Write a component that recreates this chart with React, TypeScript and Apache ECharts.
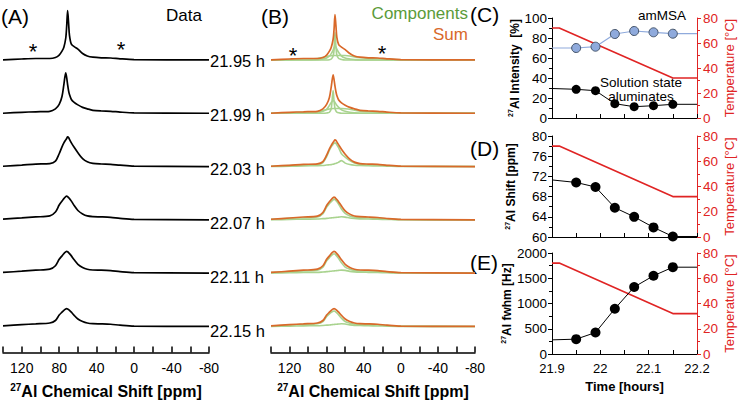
import React, { useEffect, useRef } from 'react';
import * as echarts from 'echarts';

// ---------- Panel A / B : 27Al spectra ----------
const PPM = [140, 120, 105, 90, 84, 80, 77, 75, 73, 72, 71, 70, 69, 67, 64, 60, 55, 50, 44, 35, 25, 15, 0, -80];
const SPEC_TIMES = [21.95, 21.99, 22.03, 22.07, 22.11, 22.15];

// measured data (panel A)
const DATA_2195 = [0, 1, 1.5, 1.5, 2.5, 5, 9, 13, 22, 34, 50, 38, 25, 16, 13.5, 11, 6.5, 4, 2.8, 2.2, 2, 1.2, 0.4, 0];
const DATA_2199 = [0, 1, 1.5, 2, 4.5, 9, 17, 29, 41, 36, 29, 23, 19, 14, 11, 8.5, 6, 4.5, 3, 2.3, 2, 1.2, 0.4, 0];
const DATA_2203 = [0.3, 1.5, 2.5, 3, 5.5, 13, 20, 24, 27, 28.5, 30, 29.5, 27.5, 24, 19.5, 14, 8, 4.8, 3.2, 2.6, 2.3, 1.4, 0.4, 0];
const DATA_2207 = [0.7, 2, 3, 4, 8, 15, 19, 21.5, 23.5, 24, 23.5, 22.5, 21.5, 19, 14.5, 9.5, 6, 4, 3.3, 3, 2.5, 1.5, 0.5, 0];
const DATA_2211 = [0.7, 2, 3, 4, 7.5, 14, 17.5, 19.8, 21.5, 22, 21.6, 20.8, 19.8, 17.5, 13.5, 9, 5.8, 4, 3.2, 3, 2.5, 1.5, 0.5, 0];
const DATA_2215 = [0.5, 1.8, 2.6, 3.5, 6, 11.5, 14.5, 16.3, 17.6, 18, 17.7, 17.1, 16.3, 14.5, 11.2, 7.5, 5, 3.5, 2.8, 2.6, 2.2, 1.3, 0.4, 0];

// fit sums (panel B)
const SUM_2195 = [0, 1, 1.5, 1.5, 2.5, 5, 9, 13, 21, 31, 46, 35, 23, 15.5, 13, 10.5, 6.5, 4, 2.8, 2.2, 2, 1.2, 0.4, 0];
const SUM_2199 = [0, 1, 1.5, 2, 4.5, 9, 16, 27, 39, 34, 27.5, 22, 18, 13.5, 10.5, 8.2, 6, 4.5, 3, 2.3, 2, 1.2, 0.4, 0];
const SUM_2203 = [0.3, 1.3, 2.2, 2.7, 5, 11.5, 18, 21.5, 24.5, 26, 27, 26.5, 25, 22, 17.5, 12.5, 7.5, 4.5, 3, 2.5, 2.2, 1.3, 0.4, 0];
const SUM_2207 = [0.6, 1.9, 2.9, 3.8, 7.5, 14.5, 18.3, 20.6, 22.5, 23, 22.6, 21.6, 20.6, 18.2, 14, 9.2, 5.8, 3.9, 3.2, 2.9, 2.4, 1.4, 0.5, 0];
const SUM_2211 = [0.7, 2, 3, 4, 7.5, 14, 17.5, 19.8, 21.5, 22, 21.6, 20.8, 19.8, 17.5, 13.5, 9, 5.8, 4, 3.2, 3, 2.5, 1.5, 0.5, 0];
const SUM_2215 = [0.5, 1.8, 2.6, 3.5, 6, 11.5, 14.5, 16.3, 17.6, 18, 17.7, 17.1, 16.3, 14.5, 11.2, 7.5, 5, 3.5, 2.8, 2.6, 2.2, 1.3, 0.4, 0];

// fit components (panel B)
const COMP_2195_A = [0, 0, 0, 0, 0, 0, 0.3, 1, 4, 10, 28, 14, 5, 1.5, 0.5, 0, 0, 0, 0, 0, 0, 0, 0, 0];
const COMP_2195_B = [0, 0, 0, 0.3, 1, 2, 4, 6.5, 10, 12.5, 14, 13, 11, 7.5, 4, 2, 1, 0.4, 0, 0, 0, 0, 0, 0];
const COMP_2195_C = [0, 0.5, 1, 1.5, 2.5, 3.5, 4, 4.3, 4.5, 4.5, 4.5, 4.5, 4.5, 4.5, 4.5, 4.5, 4, 3, 2.2, 1.6, 1.2, 0.6, 0.2, 0];
const COMP_2199_A = [0, 0, 0, 0, 0, 0.3, 1, 5, 23, 12, 5, 2.5, 1.2, 0.5, 0, 0, 0, 0, 0, 0, 0, 0, 0, 0];
const COMP_2199_B = [0, 0, 0, 0.5, 2, 4, 8, 11, 13, 12.5, 11, 9.5, 8, 6, 3.5, 2, 1, 0.4, 0, 0, 0, 0, 0, 0];
const COMP_2199_C = [0, 0.5, 1, 1.6, 2.7, 3.8, 4.3, 4.6, 4.8, 4.8, 4.8, 4.8, 4.8, 4.8, 4.7, 4.5, 4, 3, 2.2, 1.6, 1.2, 0.6, 0.2, 0];
const COMP_2203_A = [0.3, 1, 1.5, 2, 4, 10, 16.5, 20, 22.5, 23.5, 24, 23.5, 22, 19, 13, 9.5, 6, 3.5, 2.2, 1.8, 1.6, 1, 0.3, 0];
const COMP_2203_B = [0, 0.3, 0.7, 0.8, 1, 1.5, 1.8, 2, 2.4, 2.6, 3, 3.2, 3.6, 4.5, 6, 3.5, 2, 1.3, 1, 0.8, 0.6, 0.4, 0.1, 0];
const COMP_2207_A = [0.5, 1.5, 2.2, 3, 6.3, 13, 16.5, 18.5, 20.3, 21, 20.6, 19.6, 18.5, 15.8, 11, 6.6, 4, 2.6, 2.2, 2.1, 1.8, 1, 0.4, 0];
const COMP_2207_B = [0.1, 0.4, 0.7, 0.8, 1.2, 1.5, 1.8, 2, 2.2, 2.3, 2.4, 2.5, 2.6, 2.8, 3.1, 2.8, 1.8, 1.3, 1, 0.8, 0.6, 0.4, 0.1, 0];
const COMP_2211_A = [0.5, 1.5, 2.2, 3, 6, 12.5, 15.7, 17.8, 19.3, 19.7, 19.2, 18.3, 17.2, 14.7, 10.5, 6.2, 4, 2.7, 2.2, 2.2, 1.9, 1.1, 0.4, 0];
const COMP_2211_B = [0.1, 0.4, 0.7, 0.8, 1.2, 1.5, 1.8, 2, 2.2, 2.3, 2.4, 2.5, 2.6, 2.8, 3.1, 2.8, 1.8, 1.3, 1, 0.8, 0.6, 0.4, 0.1, 0];
const COMP_2215_A = [0.4, 1.4, 1.9, 2.7, 4.8, 10, 12.7, 14.3, 15.4, 15.7, 15.3, 14.6, 13.7, 11.7, 8.4, 5, 3.3, 2.3, 1.9, 1.9, 1.6, 0.9, 0.3, 0];
const COMP_2215_B = [0.1, 0.3, 0.6, 0.7, 1, 1.3, 1.5, 1.7, 1.9, 2, 2.1, 2.2, 2.3, 2.5, 2.7, 2.4, 1.6, 1.1, 0.9, 0.7, 0.5, 0.3, 0.1, 0];

const DATA_SPECTRA = [DATA_2195, DATA_2199, DATA_2203, DATA_2207, DATA_2211, DATA_2215];
const SUM_SPECTRA = [SUM_2195, SUM_2199, SUM_2203, SUM_2207, SUM_2211, SUM_2215];
const COMP_SPECTRA = [
  [COMP_2195_A, COMP_2195_B, COMP_2195_C],
  [COMP_2199_A, COMP_2199_B, COMP_2199_C],
  [COMP_2203_A, COMP_2203_B],
  [COMP_2207_A, COMP_2207_B],
  [COMP_2211_A, COMP_2211_B],
  [COMP_2215_A, COMP_2215_B],
];

// ---------- Panels C, D, E ----------
const TIME = [21.95, 21.99, 22.03, 22.07, 22.11, 22.15];
const TIME_START = 21.9;
const TIME_END = 22.2;
const AM_MSA = [70, 71.3, 84, 87, 85.7, 84.3];
const AM_MSA_EDGE = [70, 84.3];
const SOLUTION = [28.7, 27.3, 14.3, 11.3, 12.3, 13.7];
const SOLUTION_EDGE = [29.5, 13.7];
const SHIFT = [70.8, 69.9, 65.8, 64, 61.9, 60.1];
const SHIFT_EDGE = [71.3, 60.1];
const FWHM = [294, 425, 896, 1327, 1549, 1719];
const FWHM_EDGE = [280, 1719];
const TEMP_T = [21.9, 21.915, 22.15, 22.2];
const TEMP = [72, 72, 32, 32];

const FONT = '"Liberation Sans", Arial, Helvetica, sans-serif';
const RED = '#E02424';
const ORANGE = '#D9692A';
const LIGHT_GREEN = '#A9D38F';
const GREEN_TEXT = '#5B9B3A';

export default function App() {
  const ref = useRef<HTMLDivElement>(null);

  useEffect(() => {
    if (!ref.current) return;
    const chart = echarts.init(ref.current, undefined, { renderer: 'svg' });

    const base = (i: number) => 296.3 - 54 * i; // vertical offset of each stacked spectrum (y units = px)
    const curve = (vals: number[], i: number) => PPM.map((p, j) => [p, base(i) + vals[j]]);

    const series: any[] = [];
    DATA_SPECTRA.forEach((vals, i) => {
      series.push({
        type: 'line', xAxisIndex: 0, yAxisIndex: 0, data: curve(vals, i),
        symbol: 'none', smooth: 0.3, lineStyle: { color: '#000', width: 1.7 }, silent: true,
      });
    });
    COMP_SPECTRA.forEach((comps, i) => {
      comps.forEach((vals) => {
        series.push({
          type: 'line', xAxisIndex: 1, yAxisIndex: 1, data: curve(vals, i),
          symbol: 'none', smooth: 0.3, lineStyle: { color: LIGHT_GREEN, width: 1.6 }, silent: true,
        });
      });
    });
    SUM_SPECTRA.forEach((vals, i) => {
      series.push({
        type: 'line', xAxisIndex: 1, yAxisIndex: 1, data: curve(vals, i),
        symbol: 'none', smooth: 0.3, lineStyle: { color: ORANGE, width: 1.7 }, silent: true,
      });
    });

    const withEdges = (vals: number[], edge: number[]) => [
      { value: [TIME_START, edge[0]], symbol: 'none' },
      ...TIME.map((t, k) => ({ value: [t, vals[k]] })),
      { value: [TIME_END, edge[1]], symbol: 'none' },
    ];
    const tempData = TEMP_T.map((t, k) => [t, TEMP[k]]);

    // temperature lines
    [3, 5, 7].forEach((yi, k) => {
      series.push({
        type: 'line', xAxisIndex: 2 + k, yAxisIndex: yi, data: tempData,
        symbol: 'none', lineStyle: { color: RED, width: 1.6 }, silent: true,
      });
    });
    // C
    series.push({
      type: 'line', xAxisIndex: 2, yAxisIndex: 2, data: withEdges(AM_MSA, AM_MSA_EDGE),
      symbol: 'circle', symbolSize: 9, showAllSymbol: true,
      lineStyle: { color: '#8FAADC', width: 1.2 },
      itemStyle: { color: '#8FAADC', borderColor: '#44546A', borderWidth: 1 }, silent: true,
    });
    series.push({
      type: 'line', xAxisIndex: 2, yAxisIndex: 2, data: withEdges(SOLUTION, SOLUTION_EDGE),
      symbol: 'circle', symbolSize: 9, showAllSymbol: true,
      lineStyle: { color: '#000', width: 1 },
      itemStyle: { color: '#000' }, silent: true,
    });
    // D
    series.push({
      type: 'line', xAxisIndex: 3, yAxisIndex: 4, data: withEdges(SHIFT, SHIFT_EDGE),
      symbol: 'circle', symbolSize: 10, showAllSymbol: true,
      lineStyle: { color: '#000', width: 1 },
      itemStyle: { color: '#000' }, silent: true,
    });
    // E
    series.push({
      type: 'line', xAxisIndex: 4, yAxisIndex: 6, data: withEdges(FWHM, FWHM_EDGE),
      symbol: 'circle', symbolSize: 10, showAllSymbol: true,
      lineStyle: { color: '#000', width: 1 },
      itemStyle: { color: '#000' }, silent: true,
    });

    const richName = (size: number) => ({
      fontFamily: FONT,
      color: '#000',
      rich: {
        s: { fontSize: Math.round(size * 0.62), fontWeight: 'bold', verticalAlign: 'top', lineHeight: size * 1.2, fontFamily: FONT },
        t: { fontSize: size, fontWeight: 'bold', lineHeight: size * 1.2, fontFamily: FONT },
      },
    });

    const ppmAxis = (gi: number) => ({
      gridIndex: gi, type: 'value', min: -80, max: 140, interval: 20, inverse: true,
      axisLine: { show: true, lineStyle: { color: '#000', width: 1.5 } },
      axisTick: { show: true, inside: true, length: 6, lineStyle: { color: '#000', width: 1.5 } },
      axisLabel: {
        fontSize: 14, color: '#000', fontFamily: FONT, margin: 9,
        formatter: (v: number) => (((v + 80) % 40 === 0 && v !== 140) ? String(v) : ''),
      },
      splitLine: { show: false },
      name: '{s|27}{t|Al Chemical Shift [ppm]}', nameLocation: 'middle', nameGap: 30,
      nameTextStyle: richName(16),
    });

    const timeAxis = (gi: number, labels: boolean) => ({
      gridIndex: gi, type: 'value', min: 21.9, max: 22.2, interval: 0.05,
      axisLine: { show: true, lineStyle: { color: '#000', width: 1 } },
      axisTick: { show: true, inside: true, length: 4, lineStyle: { color: '#000' } },
      axisLabel: {
        show: labels, fontSize: 13, color: '#000', fontFamily: FONT, margin: 8,
        formatter: (v: number) => {
          const r = Math.round(v * 100);
          return r % 10 === 0 ? String(r / 100) : '';
        },
      },
      splitLine: { show: false },
      ...(labels ? {
        name: 'Time [hours]', nameLocation: 'middle', nameGap: 26,
        nameTextStyle: { fontSize: 13, fontWeight: 'bold', color: '#000', fontFamily: FONT },
      } : {}),
    });

    const leftAxis = (gi: number, min: number, max: number, interval: number, name: string) => ({
      gridIndex: gi, type: 'value', min, max, interval, position: 'left',
      axisLine: { show: true, lineStyle: { color: '#000', width: 1 } },
      axisTick: { show: true, length: 4, lineStyle: { color: '#000' } },
      minorTick: { show: true, splitNumber: 2, length: 3, lineStyle: { color: '#000' } },
      axisLabel: { fontSize: 13.5, color: '#000', fontFamily: FONT, margin: 5, formatter: (v: number) => String(v) },
      splitLine: { show: false },
      name: `{s|27}{t|${name}}`, nameLocation: 'middle', nameGap: gi === 2 ? 30 : 34, nameRotate: 90,
      nameTextStyle: richName(12),
    });

    const tempAxis = (gi: number) => ({
      gridIndex: gi, type: 'value', min: 0, max: 80, interval: 20, position: 'right',
      axisLine: { show: true, lineStyle: { color: RED, width: 1 } },
      axisTick: { show: true, length: 4, lineStyle: { color: RED } },
      minorTick: { show: true, splitNumber: 2, length: 3, lineStyle: { color: RED } },
      axisLabel: { fontSize: 13.5, color: RED, fontFamily: FONT, margin: 6 },
      splitLine: { show: false },
      name: 'Temperature [°C]', nameLocation: 'middle', nameGap: 26, nameRotate: 90,
      nameTextStyle: { fontSize: 13, color: RED, fontFamily: FONT },
    });

    const txt = (text: string, x: number, y: number, size: number, opts: any = {}) => ({
      type: 'text', x, y, silent: true,
      style: {
        text, fontSize: size, fontFamily: FONT, fill: opts.fill || '#000',
        align: opts.align || 'left', verticalAlign: 'middle', fontWeight: opts.weight || 'normal',
      },
    });

    const graphic: any[] = [
      txt('(A)', 1, 16, 21),
      txt('Data', 166, 15, 17),
      txt('*', 33, 51, 22, { align: 'center' }),
      txt('*', 121, 49, 22, { align: 'center' }),
      txt('(B)', 261, 16, 21),
      txt('Components', 468, 13, 17, { align: 'right', fill: GREEN_TEXT }),
      txt('Sum', 468, 34, 17, { align: 'right', fill: ORANGE }),
      txt('*', 293, 55, 22, { align: 'center' }),
      txt('*', 382, 53, 22, { align: 'center' }),
      txt('(C)', 470, 14, 21),
      txt('(D)', 470, 148, 21),
      txt('(E)', 470, 262, 21),
      txt('amMSA', 638, 15, 13.5),
      txt('Solution state', 641, 82, 13.5, { align: 'center' }),
      txt('aluminates', 641, 96, 13.5, { align: 'center' }),
      ...SPEC_TIMES.map((t, i) => txt(`${t.toFixed(2)} h`, 210, 357 - base(i), 16.5)),
    ];

    chart.setOption({
      animation: false,
      backgroundColor: '#fff',
      textStyle: { fontFamily: FONT },
      grid: [
        { left: 3, top: 5, width: 206, height: 352 },
        { left: 271, top: 5, width: 204, height: 352 },
        { left: 552, top: 18, width: 145, height: 100 },
        { left: 552, top: 136, width: 145, height: 101 },
        { left: 552, top: 253, width: 145, height: 101 },
      ],
      xAxis: [ppmAxis(0), ppmAxis(1), timeAxis(2, false), timeAxis(3, false), timeAxis(4, true)],
      yAxis: [
        { gridIndex: 0, type: 'value', min: 0, max: 352, show: false },
        { gridIndex: 1, type: 'value', min: 0, max: 352, show: false },
        leftAxis(2, 0, 100, 20, 'Al Intensity  [%]'),
        tempAxis(2),
        leftAxis(3, 60, 80, 4, 'Al Shift [ppm]'),
        tempAxis(3),
        leftAxis(4, 0, 2000, 500, 'Al fwhm [Hz]'),
        tempAxis(4),
      ],
      series,
      graphic,
    });

    return () => chart.dispose();
  }, []);

  return (
    <div
      ref={ref}
      style={{ position: 'fixed', left: 0, top: 0, width: 738, height: 405, background: '#fff' }}
    />
  );
}
